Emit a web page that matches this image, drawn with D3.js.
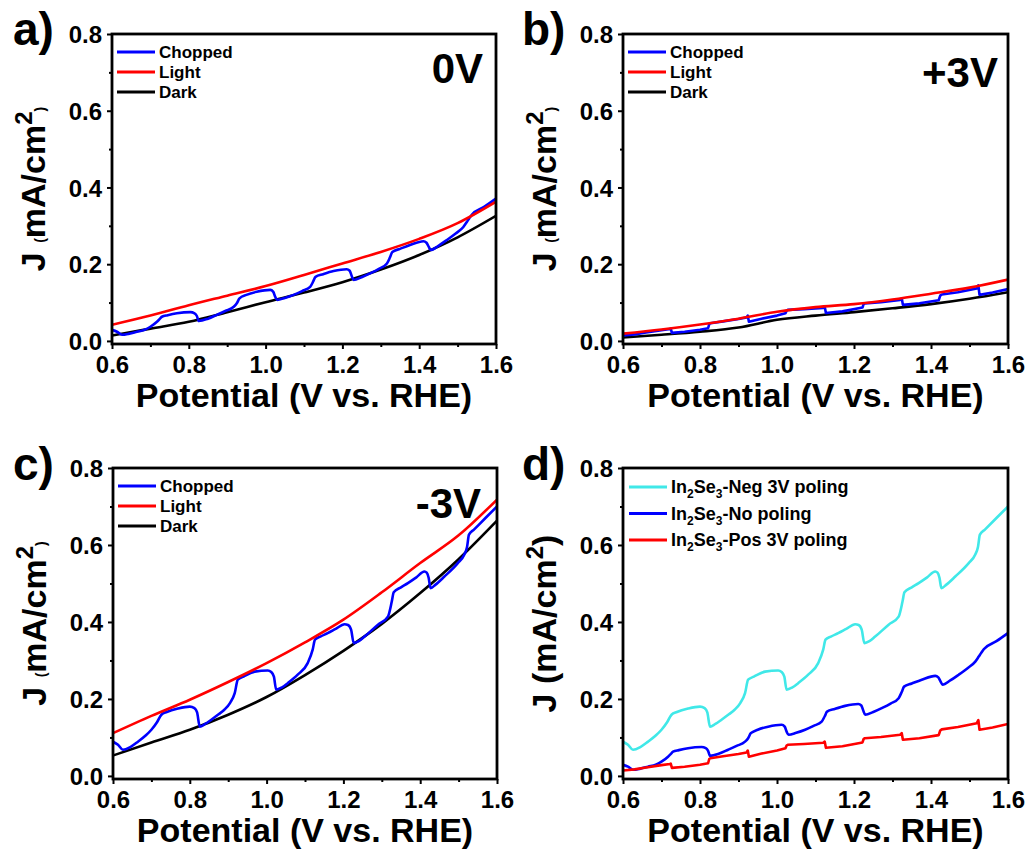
<!DOCTYPE html>
<html><head><meta charset="utf-8">
<script src="https://cdn.jsdelivr.net/npm/d3@7/dist/d3.min.js"></script>
<style>
body{margin:0;background:#fff;}
svg{display:block;font-family:"Liberation Sans",Arial,sans-serif;font-weight:bold;}
</style></head><body>
<svg id="chart" width="1030" height="850"></svg>
<script>
// ---- Data ----
const xSmooth = [0.6,0.7,0.8,0.9,1.0,1.1,1.2,1.3,1.4,1.5,1.6];

const lightA = [0.042,0.066,0.093,0.118,0.143,0.172,0.202,0.232,0.266,0.307,0.363];
const darkA  = [0.014,0.032,0.050,0.075,0.101,0.126,0.153,0.186,0.224,0.270,0.326];

const lightB = [0.019,0.030,0.043,0.058,0.076,0.088,0.096,0.108,0.123,0.139,0.160];
const darkB  = [0.009,0.016,0.024,0.035,0.055,0.066,0.075,0.085,0.096,0.110,0.127];

const lightC = [0.111,0.156,0.198,0.244,0.293,0.347,0.406,0.477,0.553,0.625,0.718];
const darkC  = [0.053,0.087,0.120,0.159,0.205,0.262,0.325,0.395,0.475,0.563,0.663];

// chopped, negative 3V poling (panel c chopped, panel d cyan)
const negX = [0.6,0.613,0.626,0.645,0.665,0.685,0.70,0.715,0.726,0.74,0.769,0.80,0.812,0.819,0.826,0.84,0.856,0.875,0.89,0.905,0.917,0.925,0.94,0.969,1.003,1.012,1.019,1.025,1.04,1.055,1.081,1.107,1.12,1.126,1.14,1.159,1.18,1.203,1.212,1.22,1.227,1.24,1.255,1.29,1.316,1.326,1.331,1.35,1.368,1.39,1.411,1.417,1.422,1.427,1.44,1.463,1.498,1.515,1.522,1.527,1.54,1.57,1.6];
const negY = [0.089,0.081,0.068,0.075,0.089,0.105,0.12,0.14,0.159,0.166,0.175,0.18,0.176,0.165,0.128,0.135,0.146,0.16,0.172,0.19,0.215,0.25,0.258,0.271,0.274,0.27,0.258,0.224,0.23,0.241,0.263,0.293,0.328,0.354,0.362,0.371,0.382,0.394,0.392,0.38,0.345,0.35,0.362,0.393,0.414,0.453,0.477,0.49,0.501,0.516,0.531,0.528,0.515,0.488,0.497,0.518,0.553,0.575,0.595,0.627,0.64,0.67,0.70];

// chopped, no poling (panel a chopped, panel d blue)
const noX = [0.6,0.613,0.626,0.645,0.665,0.685,0.70,0.717,0.725,0.73,0.745,0.769,0.804,0.815,0.821,0.826,0.85,0.873,0.895,0.917,0.925,0.932,0.95,0.977,1.012,1.02,1.025,1.03,1.05,1.073,1.095,1.116,1.124,1.13,1.15,1.177,1.211,1.219,1.224,1.229,1.25,1.272,1.295,1.316,1.324,1.33,1.35,1.376,1.411,1.419,1.425,1.43,1.45,1.472,1.495,1.515,1.524,1.53,1.537,1.57,1.6];
const noY = [0.029,0.024,0.016,0.019,0.024,0.029,0.037,0.05,0.058,0.063,0.067,0.072,0.075,0.072,0.065,0.052,0.058,0.068,0.078,0.089,0.098,0.111,0.12,0.128,0.133,0.128,0.115,0.107,0.112,0.12,0.13,0.141,0.155,0.167,0.174,0.182,0.187,0.183,0.17,0.159,0.166,0.176,0.188,0.202,0.218,0.232,0.24,0.25,0.26,0.256,0.245,0.237,0.248,0.263,0.28,0.297,0.31,0.319,0.329,0.35,0.371];

// chopped, positive 3V poling (panel b chopped, panel d red)
const posX = [0.6,0.63,0.66,0.70,0.722,0.724,0.727,0.76,0.80,0.821,0.824,0.827,0.86,0.9,0.921,0.924,0.927,0.96,1.0,1.022,1.025,1.028,1.07,1.12,1.124,1.127,1.17,1.222,1.225,1.228,1.27,1.32,1.324,1.327,1.37,1.42,1.424,1.428,1.47,1.519,1.523,1.526,1.56,1.6];
const posY = [0.014,0.017,0.022,0.028,0.031,0.032,0.021,0.024,0.029,0.033,0.044,0.046,0.051,0.057,0.061,0.066,0.05,0.058,0.066,0.072,0.079,0.081,0.083,0.086,0.089,0.073,0.077,0.087,0.096,0.098,0.101,0.107,0.111,0.094,0.098,0.106,0.118,0.121,0.127,0.137,0.145,0.12,0.126,0.135];

const xTicks = [0.6,0.8,1.0,1.2,1.4,1.6];
const xMinor = [0.7,0.9,1.1,1.3,1.5];
const yTicks = [0.0,0.2,0.4,0.6,0.8];
const yMinor = [0.1,0.3,0.5,0.7];

const legendABC = ["Chopped","Light","Dark"];
const legendD = [["In","2","Se","3","-Neg 3V poling"],["In","2","Se","3","-No poling"],["In","2","Se","3","-Pos 3V poling"]];

const BLUE="#0000ff", RED="#ff0000", BLACK="#000000", CYAN="#40e8e8";

const zip = (xs, ys) => xs.map((x,i)=>[x, ys[i]]);

const panels = [
  {letter:"a)", tag:"0V", left:112, right:496, top:34, bottom:344, lx:13, ly:45, tagX:483, tagY:83,
   series:[{d:zip(noX,noY),c:BLUE,curve:d3.curveMonotoneX},{d:zip(xSmooth,lightA),c:RED,curve:d3.curveMonotoneX},{d:zip(xSmooth,darkA),c:BLACK,curve:d3.curveMonotoneX}],
   order:[2,0,1], legend:"abc", smallParen:true},
  {letter:"b)", tag:"+3V", left:623, right:1008, top:34, bottom:344, lx:522, ly:45, tagX:998, tagY:87,
   series:[{d:zip(posX,posY),c:BLUE,curve:d3.curveLinear},{d:zip(xSmooth,lightB),c:RED,curve:d3.curveMonotoneX},{d:zip(xSmooth,darkB),c:BLACK,curve:d3.curveMonotoneX}],
   order:[2,0,1], legend:"abc", smallParen:true},
  {letter:"c)", tag:"-3V", left:113, right:497, top:468, bottom:779, lx:13, ly:480, tagX:481, tagY:518,
   series:[{d:zip(negX,negY),c:BLUE,curve:d3.curveMonotoneX},{d:zip(xSmooth,lightC),c:RED,curve:d3.curveMonotoneX},{d:zip(xSmooth,darkC),c:BLACK,curve:d3.curveMonotoneX}],
   order:[2,0,1], legend:"abc", smallParen:true},
  {letter:"d)", tag:"", left:623, right:1008, top:468, bottom:779, lx:522, ly:480,
   series:[{d:zip(negX,negY),c:CYAN,curve:d3.curveMonotoneX},{d:zip(noX,noY),c:BLUE,curve:d3.curveMonotoneX},{d:zip(posX,posY),c:RED,curve:d3.curveLinear}],
   order:[0,1,2], legend:"d", smallParen:false}
];

const svg = d3.select("#chart");

panels.forEach(p => {
  const x = d3.scaleLinear().domain([0.6,1.6]).range([p.left,p.right]);
  const y = d3.scaleLinear().domain([-0.008,0.8]).range([p.bottom,p.top]);
  const g = svg.append("g");

  // clip
  const cid = "clip"+p.letter[0];
  svg.append("clipPath").attr("id",cid).append("rect")
    .attr("x",p.left).attr("y",p.top).attr("width",p.right-p.left).attr("height",p.bottom-p.top);

  // curves
  const line = d3.line().x(d=>x(d[0])).y(d=>y(d[1]));
  const cg = g.append("g").attr("clip-path",`url(#${cid})`);
  p.order.forEach(i => {
    const s = p.series[i];
    cg.append("path").datum(s.d).attr("fill","none").attr("stroke",s.c)
      .attr("stroke-width",2.6).attr("stroke-linejoin","round")
      .attr("d", line.curve(s.curve));
  });

  // axes
  const ax = g.append("g").attr("transform",`translate(0,${p.bottom})`)
    .call(d3.axisBottom(x).tickValues(xTicks).tickFormat(d3.format(".1f")).tickSize(5).tickPadding(7));
  g.append("g").attr("transform",`translate(0,${p.bottom})`)
    .call(d3.axisBottom(x).tickValues(xMinor).tickFormat("").tickSize(3)).select(".domain").remove();
  const ay = g.append("g").attr("transform",`translate(${p.left},0)`)
    .call(d3.axisLeft(y).tickValues(yTicks).tickFormat(d3.format(".1f")).tickSize(5).tickPadding(5));
  g.append("g").attr("transform",`translate(${p.left},0)`)
    .call(d3.axisLeft(y).tickValues(yMinor).tickFormat("").tickSize(3)).select(".domain").remove();
  g.selectAll(".domain").remove();
  g.selectAll(".tick line").attr("stroke","#000").attr("stroke-width",2);
  g.selectAll(".tick text").attr("font-family","Liberation Sans, Arial, sans-serif")
    .attr("font-weight","bold").attr("font-size",24).attr("fill","#000");
  ay.selectAll(".tick text").attr("dy","0.36em");

  // frame
  g.append("rect").attr("x",p.left).attr("y",p.top).attr("width",p.right-p.left).attr("height",p.bottom-p.top)
    .attr("fill","none").attr("stroke","#000").attr("stroke-width",2.8);

  // x title
  g.append("text").attr("x",(p.left+p.right)/2).attr("y",p.bottom+63).attr("text-anchor","middle")
    .attr("font-size",34).text("Potential (V vs. RHE)");

  // y title
  const yt = g.append("text").attr("transform",`translate(${p.left-67},${(p.top+p.bottom)/2}) rotate(-90)`)
    .attr("text-anchor","middle").attr("font-size",34);
  const ps = p.smallParen ? 14 : 34;
  yt.append("tspan").text("J ");
  yt.append("tspan").attr("font-size",ps).text("(");
  yt.append("tspan").text("mA/cm");
  yt.append("tspan").attr("font-size",24).attr("dy",-13).text("2");
  yt.append("tspan").attr("font-size",ps).attr("dy",13).text(")");

  // panel letter
  g.append("text").attr("x",p.lx).attr("y",p.ly).attr("font-size",46).text(p.letter);
  if (p.tag) g.append("text").attr("x",p.tagX).attr("y",p.tagY).attr("text-anchor","end")
    .attr("font-size",42).text(p.tag);

  // legend
  if (p.legend === "abc") {
    const cols = [BLUE,RED,BLACK];
    legendABC.forEach((t,i) => {
      const yy = p.top + 18 + i*20;
      g.append("line").attr("x1",p.left+5).attr("x2",p.left+43).attr("y1",yy).attr("y2",yy)
        .attr("stroke",cols[i]).attr("stroke-width",3);
      g.append("text").attr("x",p.left+47).attr("y",yy).attr("dy","0.36em").attr("font-size",17).text(t);
    });
  } else {
    const cols = [CYAN,BLUE,RED];
    legendD.forEach((parts,i) => {
      const yy = p.top + 19 + i*26.5;
      g.append("line").attr("x1",p.left+6).attr("x2",p.left+44).attr("y1",yy).attr("y2",yy)
        .attr("stroke",cols[i]).attr("stroke-width",3);
      const t = g.append("text").attr("x",p.left+48).attr("y",yy).attr("dy","0.36em").attr("font-size",18);
      t.append("tspan").text(parts[0]);
      t.append("tspan").attr("font-size",12).attr("dy",5).text(parts[1]);
      t.append("tspan").attr("dy",-5).text(parts[2]);
      t.append("tspan").attr("font-size",12).attr("dy",5).text(parts[3]);
      t.append("tspan").attr("dy",-5).text(parts[4]);
    });
  }
});
</script>
</body></html>
